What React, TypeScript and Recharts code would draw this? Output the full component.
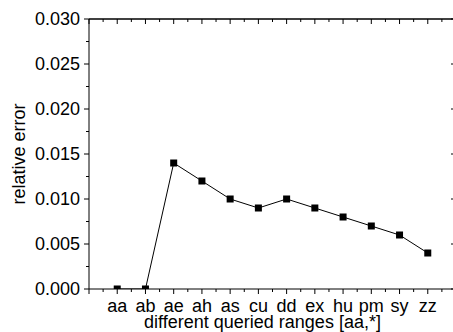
import React from 'react';
import { LineChart, Line, XAxis, YAxis, ReferenceLine } from 'recharts';

// queried ranges and measured relative error
const categories = ['aa', 'ab', 'ae', 'ah', 'as', 'cu', 'dd', 'ex', 'hu', 'pm', 'sy', 'zz'];
const relativeError = [0, 0, 0.014, 0.012, 0.01, 0.009, 0.01, 0.009, 0.008, 0.007, 0.006, 0.004];

const xTicks = [-1, -0.5, 0, 0.5, 1, 1.5, 2, 2.5, 3, 3.5, 4, 4.5, 5, 5.5, 6, 6.5, 7, 7.5, 8, 8.5, 9, 9.5, 10, 10.5, 11, 11.5, 12];
const yTicks = [0, 0.0025, 0.005, 0.0075, 0.01, 0.0125, 0.015, 0.0175, 0.02, 0.0225, 0.025, 0.0275, 0.03];
const yMajor = [0, 0.005, 0.01, 0.015, 0.02, 0.025, 0.03];

const data = categories.map((name, i) => ({ x: i, name, err: relativeError[i] }));

const FONT = '"Liberation Sans", Arial, sans-serif';
const CHART_W = 460;
const MARGIN = { top: 19, right: 4, bottom: 0, left: 0 };
const PLOT_TOP = MARGIN.top;
const PLOT_RIGHT = CHART_W - MARGIN.right;

const isMajorX = (v: number) => Number.isInteger(v);
const isMajorY = (v: number) => yMajor.some((m) => Math.abs(m - v) < 1e-9);

// bottom ticks (outward) + mirrored top ticks (inward)
const BottomTick = (props: any) => {
  const { x, y, payload } = props;
  const v = payload.value;
  const major = isMajorX(v);
  const label = major && v >= 0 && v < categories.length ? categories[v] : '';
  return (
    <g>
      <line x1={x} x2={x} y1={y} y2={y + (major ? 5 : 3)} stroke="#000" />
      <line x1={x} x2={x} y1={PLOT_TOP} y2={PLOT_TOP + (major ? 5 : 3)} stroke="#000" />
      {label && (
        <text x={x} y={y + 23} textAnchor="middle" fontSize={18} fontFamily={FONT} fill="#000">
          {label}
        </text>
      )}
    </g>
  );
};

// left ticks (outward) + mirrored right ticks (inward)
const LeftTick = (props: any) => {
  const { x, y, payload } = props;
  const major = isMajorY(payload.value);
  return (
    <g>
      <line x1={x - (major ? 5 : 3)} x2={x} y1={y} y2={y} stroke="#000" />
      <line x1={PLOT_RIGHT - (major ? 5 : 3)} x2={PLOT_RIGHT} y1={y} y2={y} stroke="#000" />
      {major && (
        <text x={x - 9} y={y} dy="0.36em" textAnchor="end" fontSize={18} fontFamily={FONT} fill="#000">
          {payload.value.toFixed(3)}
        </text>
      )}
    </g>
  );
};

const SquareDot = (props: any) => {
  const { cx, cy, index } = props;
  return <rect key={index} x={cx - 3.5} y={cy - 3.5} width={7} height={7} fill="#000" />;
};

const YLabel = (props: any) => {
  const { viewBox } = props;
  const cy = viewBox.y + viewBox.height / 2;
  return (
    <text
      x={25}
      y={cy}
      transform={`rotate(-90, 25, ${cy})`}
      textAnchor="middle"
      fontSize={18}
      fontFamily={FONT}
      fill="#000"
    >
      relative error
    </text>
  );
};

export default function App() {
  return (
    <div style={{ width: 453, height: 332, overflow: 'hidden', background: '#fff', fontFamily: FONT }}>
      <style>{'body{margin:0}'}</style>
      <LineChart width={CHART_W} height={332} data={data} margin={MARGIN}>
        <XAxis
          dataKey="x"
          type="number"
          domain={[-1, 12]}
          ticks={xTicks}
          interval={0}
          allowDataOverflow
          height={43}
          tickSize={0}
          tickMargin={0}
          tickLine={false}
          tick={<BottomTick />}
          axisLine={{ stroke: '#000' }}
          label={{
            value: 'different queried ranges [aa,*]',
            position: 'insideBottom',
            offset: 4,
            dx: -10,
            fontSize: 18,
            fontFamily: FONT,
            fill: '#000',
          }}
        />
        <YAxis
          type="number"
          domain={[0, 0.03]}
          ticks={yTicks}
          interval={0}
          allowDataOverflow
          width={89}
          tickSize={0}
          tickMargin={0}
          tickLine={false}
          tick={<LeftTick />}
          axisLine={{ stroke: '#000' }}
          label={{ content: <YLabel /> }}
        />
        {/* frame: top and right borders */}
        <ReferenceLine y={0.03} stroke="#000" strokeWidth={1.5} ifOverflow="visible" />
        <ReferenceLine x={12} stroke="#000" ifOverflow="visible" />
        <Line
          dataKey="err"
          stroke="#000"
          strokeWidth={1}
          dot={<SquareDot />}
          activeDot={false}
          isAnimationActive={false}
        />
      </LineChart>
    </div>
  );
}
